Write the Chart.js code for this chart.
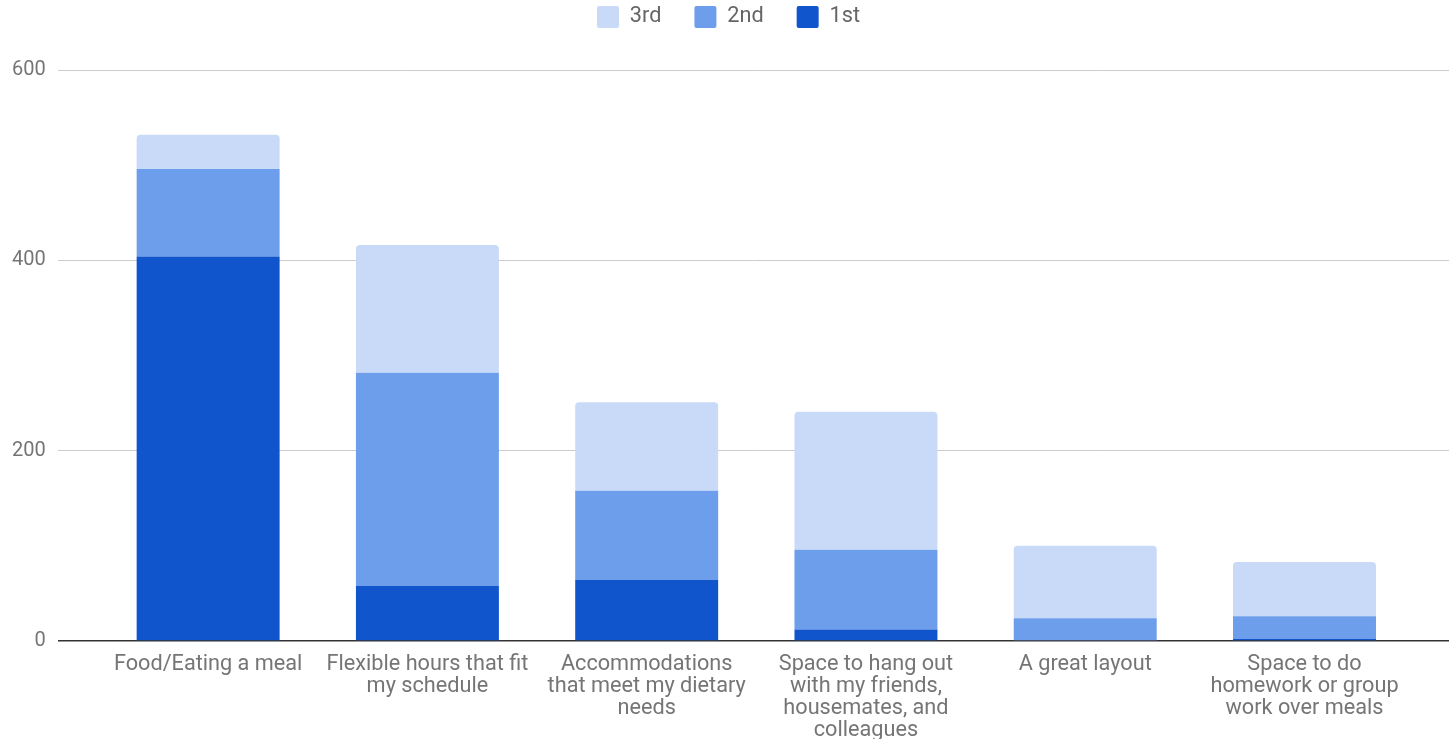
<!DOCTYPE html>
<html lang="en">
<head>
<meta charset="UTF-8">
<title>Ranking</title>
<script src="https://cdn.jsdelivr.net/npm/chart.js@4.4.1/dist/chart.umd.min.js"></script>
<style>
    html, body { margin: 0; padding: 0; background: #fff; }
    .chart-wrap { position: relative; width: 1449px; height: 739px; overflow: hidden; }
    .chart-box { position: absolute; left: 0; top: -27px; width: 1449px; height: 782px; }
</style>
</head>
<body>
<div class="chart-wrap">
    <div class="chart-box"><canvas id="ranking-chart"></canvas></div>
</div>
<script>
// Categorias do eixo X (quebradas em linhas)
const categories = [
    'Food/Eating a meal',
    ['Flexible hours that fit', 'my schedule'],
    ['Accommodations', 'that meet my dietary', 'needs'],
    ['Space to hang out', 'with my friends,', 'housemates, and', 'colleagues'],
    'A great layout',
    ['Space to do', 'homework or group', 'work over meals']
];

// Votos por posição no ranking
const firstValues = [404, 58, 64, 12, 0, 2];
const secondValues = [92, 224, 94, 84, 24, 24];
const thirdValues = [36, 134, 93, 145, 76, 57];

// Marcas do eixo Y
const yTicks = [0, 200, 400, 600];

// Cores
const firstColor = '#1155cc';
const secondColor = '#6d9eeb';
const thirdColor = '#c9daf8';

Chart.defaults.font.family = 'Roboto';
Chart.defaults.font.size = 20;

// Transformar lista de valores em pontos {x, y}
function toPoints(values) {
    return values.map((v, i) => ({ x: i, y: v }));
}

// Espaço extra entre a legenda e o gráfico, e legenda um pouco à direita
const legendGap = {
    id: 'legendGap',
    beforeInit(chart) {
        const originalFit = chart.legend.fit;
        chart.legend.fit = function () {
            originalFit.bind(chart.legend)();
            this.height += 32;
        };
    },
    afterLayout(chart) {
        chart.legend.left += 4;
        chart.legend.right += 4;
    }
};

const ctx = document.getElementById('ranking-chart').getContext('2d');

const rankingChart = new Chart(ctx, {
    type: 'bar',
    data: {
        datasets: [
            {
                label: '1st',
                data: toPoints(firstValues),
                backgroundColor: firstColor,
                borderWidth: 0
            },
            {
                label: '2nd',
                data: toPoints(secondValues),
                backgroundColor: secondColor,
                borderWidth: 0
            },
            {
                label: '3rd',
                data: toPoints(thirdValues),
                backgroundColor: thirdColor,
                borderWidth: 0,
                borderRadius: { topLeft: 4, topRight: 4 },
                borderSkipped: 'bottom'
            }
        ]
    },
    options: {
        responsive: true,
        maintainAspectRatio: false,
        animation: false,
        layout: {
            padding: 0
        },
        datasets: {
            bar: {
                categoryPercentage: 0.652,
                barPercentage: 1
            }
        },
        scales: {
            x: {
                type: 'linear',
                stacked: true,
                offset: false,
                min: -0.686,
                max: 5.659,
                afterBuildTicks: function(scale) {
                    scale.ticks = categories.map((c, i) => ({ value: i }));
                },
                grid: { display: false, offset: false, drawTicks: false },
                border: { display: false },
                ticks: {
                    autoSkip: false,
                    maxRotation: 0,
                    padding: 13,
                    color: '#757575',
                    font: { size: 21.7, lineHeight: 22 / 21.7 },
                    callback: function(value) {
                        return categories[value];
                    }
                }
            },
            y: {
                stacked: true,
                min: 0,
                max: 600,
                afterBuildTicks: function(scale) {
                    scale.ticks = yTicks.map(v => ({ value: v }));
                },
                border: { display: false },
                grid: {
                    drawTicks: false,
                    color: function(context) {
                        return context.tick && context.tick.value === 0 ? '#333333' : '#cccccc';
                    },
                    lineWidth: function(context) {
                        return context.tick && context.tick.value === 0 ? 1.6 : 1;
                    }
                },
                ticks: {
                    padding: 12,
                    color: '#757575',
                    font: { size: 20 }
                }
            }
        },
        plugins: {
            legend: {
                position: 'top',
                reverse: true,
                labels: {
                    boxWidth: 22,
                    boxHeight: 22,
                    padding: 33,
                    useBorderRadius: true,
                    borderRadius: 2,
                    color: '#666666',
                    font: { size: 21.7 }
                }
            },
            tooltip: { enabled: false }
        }
    },
    plugins: [legendGap]
});
</script>
</body>
</html>
